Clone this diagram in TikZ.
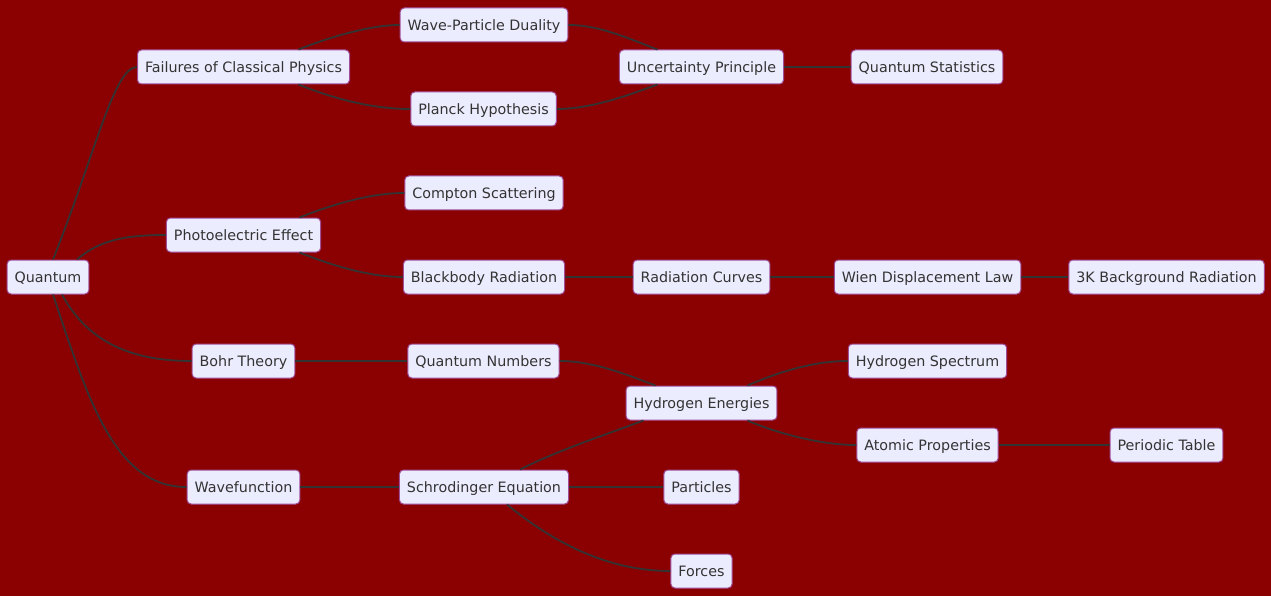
\documentclass[tikz,border=0pt]{standalone}
\usepackage{fontspec}
\setmainfont{DejaVu Sans}
\usepackage{tikz}
\usetikzlibrary{positioning}
\definecolor{bgred}{HTML}{8B0000}
\definecolor{boxfill}{HTML}{ECECFF}
\definecolor{boxline}{HTML}{A04E9A}
\definecolor{linkgray}{HTML}{333333}

\begin{document}
\begin{tikzpicture}[x=1pt, y=-1pt,
    topic/.style={draw=boxline, fill=boxfill, line width=1pt, rounded corners=4pt,
        minimum height=34pt, text height=12.4pt, text depth=2pt, inner xsep=7.5pt,
        text=linkgray, font=\fontsize{14.3}{16}\selectfont},
    link/.style={draw=linkgray, line width=1.8pt}]
    % Canvas
    \fill[bgred] (0,0) rectangle (1271,596);
    \useasboundingbox (0,0) rectangle (1271,596);

    % Root
    \node[topic] (q) at (48,277) {Quantum};

    % First level
    \node[topic] (fcp) at (243.5,67) {Failures of Classical Physics};
    \node[topic] (pe) at (243.5,235) {Photoelectric Effect};
    \node[topic] (bt) at (243.5,361) {Bohr Theory};
    \node[topic] (wf) at (243.5,487) {Wavefunction};

    % Second level
    \node[topic] (wpd) at (484,25) {Wave-Particle Duality};
    \node[topic] (ph) at (483.5,109) {Planck Hypothesis};
    \node[topic] (cs) at (484,193) {Compton Scattering};
    \node[topic] (br) at (484,277) {Blackbody Radiation};
    \node[topic] (qn) at (483.5,361) {Quantum Numbers};
    \node[topic] (se) at (484,487) {Schrodinger Equation};

    % Third level
    \node[topic] (up) at (701.5,67) {Uncertainty Principle};
    \node[topic] (rc) at (701.5,277) {Radiation Curves};
    \node[topic] (he) at (701.5,403) {Hydrogen Energies};
    \node[topic] (pa) at (701.5,487) {Particles};
    \node[topic] (fo) at (701.5,571) {Forces};

    % Fourth and fifth level
    \node[topic] (qs) at (927,67) {Quantum Statistics};
    \node[topic] (wdl) at (927.5,277) {Wien Displacement Law};
    \node[topic] (hs) at (927.5,361) {Hydrogen Spectrum};
    \node[topic] (ap) at (927.5,445) {Atomic Properties};
    \node[topic] (bgr) at (1166.5,277) {3K Background Radiation};
    \node[topic] (pt) at (1166.5,445) {Periodic Table};

    % Links from the root
    \draw[link] ([xshift=5pt]q.north) .. controls +(42,-105) and +(-23,0) .. (fcp.west);
    \draw[link] ([xshift=29pt]q.north) .. controls +(23,-20) and +(-39,0) .. (pe.west);
    \draw[link] ([xshift=14pt]q.south) .. controls +(25,46) and +(-63,0) .. (bt.west);
    \draw[link] ([xshift=5pt]q.south) .. controls +(35,105) and +(-72,0) .. (wf.west);

    % Upper branch
    \draw[link] ([xshift=55pt]fcp.north) .. controls +(30,-12) and +(-30,0) .. (wpd.west);
    \draw[link] ([xshift=55pt]fcp.south) .. controls +(32,13) and +(-40,0) .. (ph.west);
    \draw[link] (wpd.east) .. controls +(32,0) and +(-27,-10) .. ([xshift=-44pt]up.north);
    \draw[link] (ph.east) .. controls +(35,0) and +(-27,10) .. ([xshift=-44pt]up.south);
    \draw[link] (up) -- (qs);

    % Radiation branch
    \draw[link] ([xshift=56pt]pe.north) .. controls +(30,-12) and +(-35,0) .. (cs.west);
    \draw[link] ([xshift=56pt]pe.south) .. controls +(30,12) and +(-35,0) .. (br.west);
    \draw[link] (br) -- (rc);
    \draw[link] (rc) -- (wdl);
    \draw[link] (wdl) -- (bgr);

    % Atom branch
    \draw[link] (bt) -- (qn);
    \draw[link] (qn.east) .. controls +(35,0) and +(-27,-10) .. ([xshift=-46pt]he.north);
    \draw[link] ([xshift=36pt]se.north) .. controls +(40,-20) and +(-40,15) .. ([xshift=-58pt]he.south);
    \draw[link] ([xshift=46pt]he.north) .. controls +(30,-13) and +(-35,0) .. (hs.west);
    \draw[link] ([xshift=46pt]he.south) .. controls +(30,13) and +(-35,0) .. (ap.west);
    \draw[link] (ap) -- (pt);

    % Wavefunction branch
    \draw[link] (wf) -- (se);
    \draw[link] (se) -- (pa);
    \draw[link] ([xshift=23pt]se.south) .. controls +(38,31) and +(-70,0) .. (fo.west);
\end{tikzpicture}
\end{document}
